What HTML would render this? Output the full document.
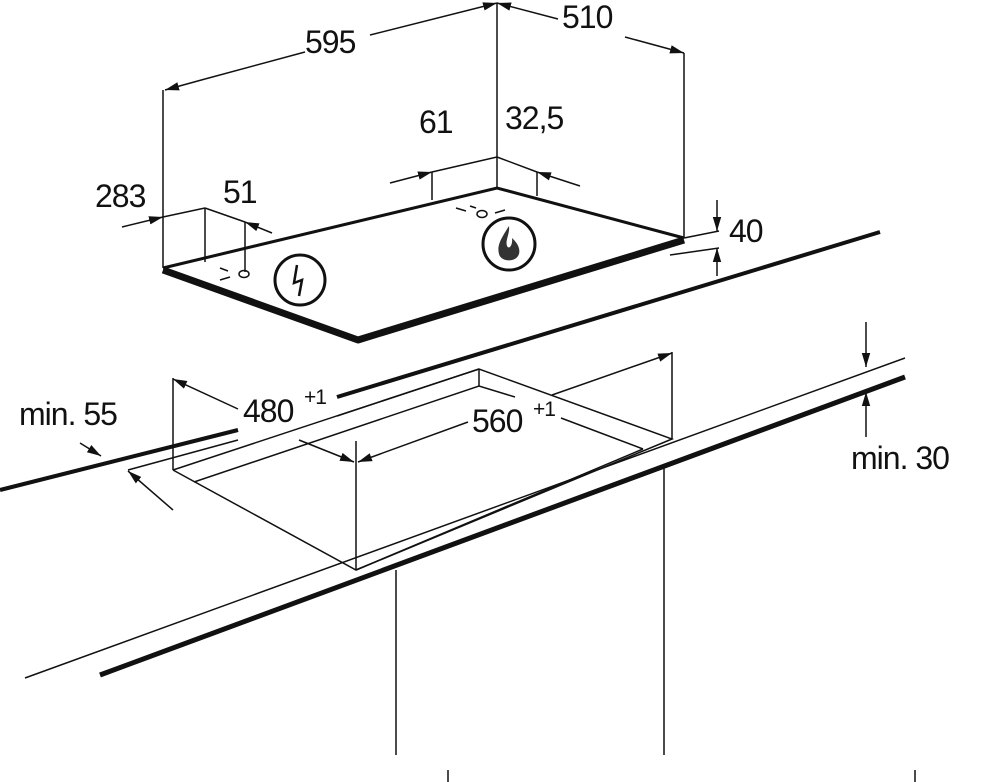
<!DOCTYPE html>
<html><head><style>html,body{margin:0;padding:0;background:#fff}svg{display:block}
text{font-family:"Liberation Sans",sans-serif;fill:#111}</style></head>
<body>
<svg width="1000" height="782" viewBox="0 0 1000 782" xmlns="http://www.w3.org/2000/svg">
<defs>
<marker id="b" viewBox="0 0 10 10" refX="10" refY="5" markerWidth="14" markerHeight="14" markerUnits="userSpaceOnUse" orient="auto"><path d="M0,2 L10,5 L0,8 z" fill="#111"/></marker>
</defs>
<g stroke="#111" fill="none" stroke-width="1.5">
<line x1="163" y1="90" x2="163" y2="268"/>
<line x1="497" y1="3" x2="497" y2="188"/>
<line x1="684" y1="53" x2="684" y2="238"/>
<line x1="432" y1="172" x2="432" y2="200"/>
<line x1="537" y1="172" x2="537" y2="196"/>
<line x1="205" y1="208" x2="205" y2="262"/>
<line x1="245" y1="222" x2="245" y2="272"/>
<line x1="205" y1="79" x2="165" y2="90" marker-end="url(#b)"/>
<line x1="205" y1="79" x2="305" y2="52"/>
<line x1="370" y1="35" x2="497" y2="3" marker-end="url(#b)"/>
<line x1="558" y1="19" x2="497" y2="3" marker-end="url(#b)"/>
<line x1="625" y1="37" x2="684" y2="53" marker-end="url(#b)"/>
<line x1="390" y1="183" x2="432" y2="172" marker-end="url(#b)"/>
<line x1="432" y1="172" x2="497" y2="157"/>
<line x1="497" y1="157" x2="537" y2="172"/>
<line x1="580" y1="186" x2="537" y2="172" marker-end="url(#b)"/>
<line x1="122" y1="227" x2="163" y2="217" marker-end="url(#b)"/>
<line x1="163" y1="217" x2="205" y2="208"/>
<line x1="205" y1="208" x2="245" y2="222"/>
<line x1="272" y1="233" x2="245" y2="222" marker-end="url(#b)"/>
<path d="M163,268 L497,188 L684,238" stroke-width="3"/>
<path d="M163,270 L358,340 L684,240" stroke-width="7" stroke-linejoin="round"/>
<ellipse cx="244" cy="274" rx="5" ry="3.5"/>
<ellipse cx="482" cy="214" rx="5" ry="3.5"/>
<line x1="220" y1="268" x2="228" y2="271"/><line x1="220" y1="280" x2="230" y2="277"/>
<line x1="456" y1="208" x2="466" y2="211"/><line x1="495" y1="213" x2="505" y2="210"/><line x1="470" y1="206" x2="476" y2="208"/>
<circle cx="300" cy="280" r="25" stroke-width="3"/>
<path d="M297,265 L294,283 L302,280 L299,296" stroke-width="2.5"/>
<circle cx="509" cy="244" r="26" stroke-width="3"/>
<path d="M509,226 C500,240 497,246 499,254 C501,262 516,263 519,254 C521,246 514,240 512,238 C513,245 509,250 507,246 C505,240 510,234 509,226 z" fill="#333" stroke="none"/>
<line x1="684" y1="238" x2="719" y2="231"/>
<line x1="670" y1="255" x2="719" y2="248"/>
<line x1="717" y1="200" x2="717" y2="231" marker-end="url(#b)"/>
<line x1="717" y1="276" x2="717" y2="248" marker-end="url(#b)"/>
<line x1="0" y1="490" x2="238" y2="430" stroke-width="4"/>
<line x1="337" y1="397" x2="880" y2="232" stroke-width="4"/>
<line x1="128" y1="470" x2="238" y2="440"/>
<line x1="337" y1="416" x2="479" y2="369"/>
<line x1="80" y1="443" x2="101" y2="456" marker-end="url(#b)"/>
<line x1="173" y1="510" x2="128" y2="471" marker-end="url(#b)"/>
<path d="M173,470 L356,570 L672,439 L479,369 L173,470"/>
<path d="M194,482 L479,386 L515,397"/>
<path d="M561,418 L643,449"/>
<path d="M356,570 L643,449"/>
<line x1="479" y1="369" x2="479" y2="386"/>
<line x1="173" y1="378" x2="173" y2="470"/>
<line x1="672" y1="352" x2="672" y2="439"/>
<line x1="356" y1="441" x2="356" y2="570"/>
<line x1="238" y1="409" x2="173" y2="379" marker-end="url(#b)"/>
<line x1="299" y1="440" x2="354" y2="462" marker-end="url(#b)"/>
<line x1="468" y1="422" x2="358" y2="462" marker-end="url(#b)"/>
<line x1="552" y1="395" x2="672" y2="353" marker-end="url(#b)"/>
<line x1="25" y1="678" x2="905" y2="358"/>
<line x1="100" y1="675" x2="905" y2="377" stroke-width="5"/>
<line x1="866" y1="322" x2="866" y2="367" marker-end="url(#b)"/>
<line x1="866" y1="437" x2="866" y2="392" marker-end="url(#b)"/>
<line x1="396" y1="570" x2="396" y2="755"/>
<line x1="664" y1="468" x2="664" y2="755"/>
<line x1="448" y1="770" x2="448" y2="782"/>
<line x1="915" y1="770" x2="915" y2="782"/>
</g>
<g font-size="32" letter-spacing="-1">
<text x="305" y="53">595</text>
<text x="562" y="28">510</text>
<text x="419" y="133">61</text>
<text x="505" y="129">32,5</text>
<text x="95" y="207">283</text>
<text x="223" y="203">51</text>
<text x="729" y="242">40</text>
<text x="19" y="425">min. 55</text>
<text x="243" y="422">480</text><text x="304" y="404" font-size="21">+1</text>
<text x="472" y="432">560</text><text x="533" y="416" font-size="21">+1</text>
<text x="851" y="469">min. 30</text>
</g>
</svg>
</body></html>
